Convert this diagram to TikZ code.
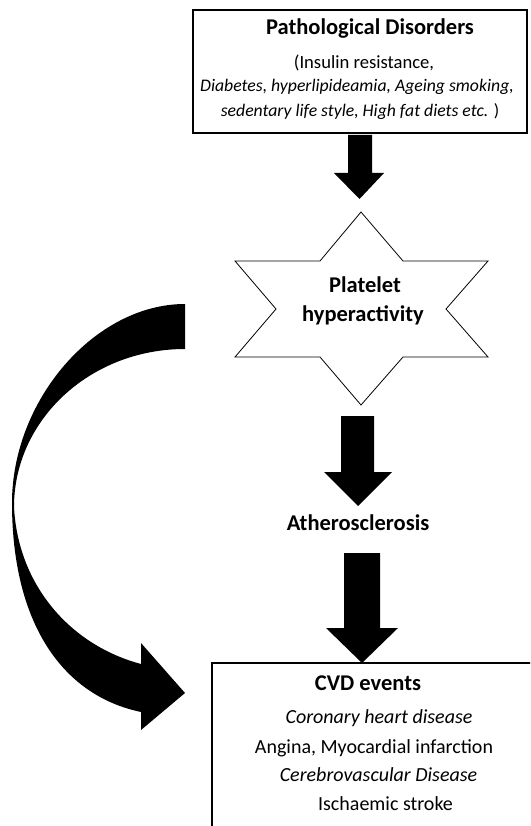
\documentclass[tikz,border=0pt]{standalone}
\usepackage{fontspec}
\setmainfont{Carlito}
\begin{document}
\begin{tikzpicture}[x=1pt,y=-1pt,
  boldtxt/.style={font=\fontsize{22.5}{27}\selectfont\bfseries, inner sep=0pt, text height=0.7em, text depth=0.2em},
  toptxt/.style={font=\fontsize{18.6}{22}\selectfont, inner sep=0pt, text height=0.7em, text depth=0.2em},
  topital/.style={font=\fontsize{17.7}{21}\selectfont, inner sep=0pt, text height=0.7em, text depth=0.2em},
  cvdtxt/.style={font=\fontsize{20}{24}\selectfont, inner sep=0pt, text height=0.7em, text depth=0.2em},
  boxframe/.style={draw=black, line width=2pt, fill=white},
  blockarrow/.style={fill=black},
  starshape/.style={draw=black, line width=0.8pt, fill=white, line join=miter}]
\useasboundingbox (0,0) rectangle (530,826);
\clip (0,0) rectangle (530,826);
\fill[white] (0,0) rectangle (530,826);

% top box
\node[boxframe, minimum width=334pt, minimum height=123pt, inner sep=0pt] (topbox) at (360,71.5) {};
\node[boldtxt] (t1) at (370,32) {Pathological Disorders};
\node[toptxt] (t2) at (364,66) {(Insulin resistance,};
\node[topital] (t3) at (357,89) {\itshape Diabetes, hyperlipideamia, Ageing smoking,};
\node[topital] (t4) at (360,114) {\textit{sedentary life style, High fat diets etc.} )};

% arrow 1
\fill[blockarrow] (348,135) -- (372,135) -- (372,173) -- (384,173) -- (359.5,199) -- (334,173) -- (348,173) -- cycle;

% star
\draw[starshape] (361,212) -- (403,261) -- (488,261) -- (446,309) -- (488,357) -- (403,357)
  -- (361,405) -- (320,357) -- (235,357) -- (276,309) -- (235,261) -- (320,261) -- cycle;
\node[boldtxt] (s1) at (365,290) {Platelet};
\node[boldtxt] (s2) at (363,319) {hyperactivity};

% arrow 2
\fill[blockarrow] (341,416) -- (374,416) -- (374,472) -- (392,472) -- (358,506) -- (324,472) -- (341,472) -- cycle;

\node[boldtxt] (ath) at (358,528) {Atherosclerosis};

% arrow 3
\fill[blockarrow] (344,553) -- (380,553) -- (380,628) -- (398,628) -- (362,663) -- (326,628) -- (344,628) -- cycle;

% CVD box
\draw[boxframe] (212,663) rectangle (560,860);
\node[boldtxt] (c1) at (368,688) {CVD events};
\node[cvdtxt] (c2) at (379,721) {\itshape Coronary heart disease};
\node[cvdtxt] (c3) at (374,751) {Angina, Myocardial infarction};
\node[cvdtxt] (c4) at (378.5,779) {\itshape Cerebrovascular Disease};
\node[cvdtxt] (c5) at (385.5,808) {Ischaemic stroke};

% curved arrow
\fill[blockarrow] (185,304) .. controls (95,304) and (12,400) .. (12,503)
  .. controls (12,620) and (60,695) .. (141,712) -- (141,730) -- (185,693) -- (141,643) -- (141,664)
  .. controls (70,645) and (18,585) .. (14,507)
  .. controls (14,420) and (90,349) .. (185,349) -- cycle;
\end{tikzpicture}
\end{document}
